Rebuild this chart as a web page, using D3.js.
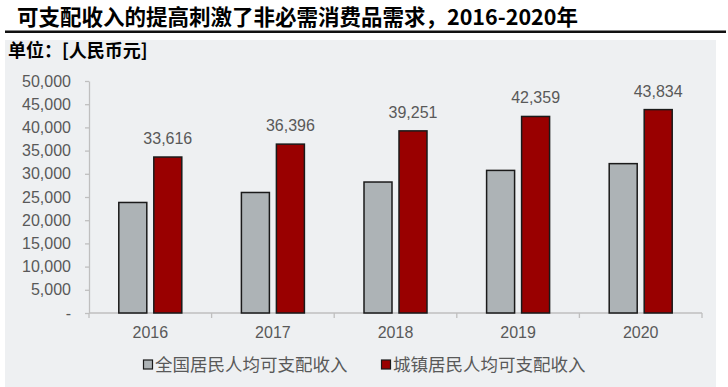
<!DOCTYPE html>
<html lang="zh">
<head>
<meta charset="utf-8">
<script src="https://d3js.org/d3.v7.min.js"></script>
<style type="text/css">
body {
	margin: 0;
	background: #ffffff;
	font-family: "Liberation Sans", "Noto Sans CJK SC", sans-serif;
}
.axis text {
	font: 16px "Liberation Sans", sans-serif;
	fill: #595959;
}
.axis line, .axis path {
	fill: none;
	stroke: #bfbfbf;
	stroke-width: 1.3;
}
</style>
</head>
<body>
<div id="chart"></div>
<script type="text/javascript">

	// data
	var years = ["2016", "2017", "2018", "2019", "2020"];
	var seriesNames = ["全国居民人均可支配收入", "城镇居民人均可支配收入"];
	var national = [23821, 25974, 28228, 30733, 32189];
	var urban = [33616, 36396, 39251, 42359, 43834];
	var yTicks = [0, 5000, 10000, 15000, 20000, 25000, 30000, 35000, 40000, 45000, 50000];

	var width = 728, height = 387;
	var colors = ["#adb3b6", "#990000"];

	var svg = d3.select("#chart")
	  .append("svg")
	  .attr("width", width)
	  .attr("height", height);

	// title + rule
	svg.append("text")
	  .attr("x", 17)
	  .attr("y", 25)
	  .style("font", "bold 21.5px 'Noto Sans CJK SC', sans-serif")
	  .style("fill", "#000")
	  .text("可支配收入的提高刺激了非必需消费品需求，2016-2020年");

	svg.append("rect")
	  .attr("x", 5).attr("y", 30.5)
	  .attr("width", 721).attr("height", 2.5)
	  .style("fill", "#111");

	// panel background
	svg.append("rect")
	  .attr("x", 5).attr("y", 40)
	  .attr("width", 711).attr("height", height - 40)
	  .style("fill", "#eef0f2");

	svg.append("text")
	  .attr("x", 8)
	  .attr("y", 57)
	  .style("font", "bold 18px 'Noto Sans CJK SC', sans-serif")
	  .style("fill", "#000")
	  .text("单位：[人民币元]");

	// scales
	var plotLeft = 89, plotRight = 702, plotTop = 81, plotBottom = 313;

	var x = d3.scaleBand()
	  .domain(years)
	  .range([plotLeft, plotRight]);

	var y = d3.scaleLinear()
	  .domain([0, 50000])
	  .range([plotBottom, plotTop]);

	var barW = 28, gap = 7;

	// y axis
	svg.append("g")
	  .attr("class", "axis")
	  .attr("transform", "translate(" + plotLeft + ",0)")
	  .call(d3.axisLeft(y)
	    .tickValues(yTicks)
	    .tickSize(4)
	    .tickPadding(14)
	    .tickSizeOuter(0)
	    .tickFormat(function(d) { return d === 0 ? "-" : d3.format(",")(d); }));

	// x axis: ticks at category edges
	var xg = svg.append("g")
	  .attr("class", "axis")
	  .attr("transform", "translate(0," + plotBottom + ")");

	xg.append("line")
	  .attr("x1", plotLeft).attr("x2", plotRight)
	  .attr("y1", 0).attr("y2", 0);

	xg.selectAll(".edge")
	  .data(years.concat(["end"]))
	  .enter()
	  .append("line")
	  .attr("class", "edge")
	  .attr("x1", function(d, i) { return plotLeft + i * x.bandwidth(); })
	  .attr("x2", function(d, i) { return plotLeft + i * x.bandwidth(); })
	  .attr("y1", 0).attr("y2", 5);

	xg.selectAll(".lbl")
	  .data(years)
	  .enter()
	  .append("text")
	  .attr("class", "lbl")
	  .attr("x", function(d) { return x(d) + x.bandwidth() / 2; })
	  .attr("y", 25)
	  .attr("text-anchor", "middle")
	  .text(function(d) { return d; });

	// bars
	var series = [national, urban];
	series.forEach(function(vals, s) {
		svg.selectAll(".bar" + s)
		  .data(vals)
		  .enter()
		  .append("rect")
		  .attr("class", "bar" + s)
		  .attr("x", function(d, i) {
		  	var c = x(years[i]) + x.bandwidth() / 2;
		  	return s === 0 ? c - gap / 2 - barW : c + gap / 2;
		  })
		  .attr("y", function(d) { return y(d); })
		  .attr("width", barW)
		  .attr("height", function(d) { return plotBottom - y(d); })
		  .style("fill", colors[s])
		  .style("stroke", "#1a1a1a")
		  .style("stroke-width", 1.5);
	});

	// labels on urban bars
	svg.selectAll(".val")
	  .data(urban)
	  .enter()
	  .append("text")
	  .attr("class", "val")
	  .attr("x", function(d, i) { return x(years[i]) + x.bandwidth() / 2 + gap / 2 + barW / 2; })
	  .attr("y", function(d) { return y(d) - 13; })
	  .attr("text-anchor", "middle")
	  .style("font", "16px 'Liberation Sans', sans-serif")
	  .style("fill", "#595959")
	  .text(function(d) { return d3.format(",")(d); });

	// legend
	var legX = [143, 381];
	var leg = svg.selectAll(".leg")
	  .data(seriesNames)
	  .enter()
	  .append("g")
	  .attr("class", "leg")
	  .attr("transform", function(d, i) { return "translate(" + legX[i] + ",365)"; });

	leg.append("rect")
	  .attr("x", 0.5).attr("y", -5)
	  .attr("width", 9).attr("height", 9)
	  .style("fill", function(d, i) { return colors[i]; })
	  .style("stroke", "#1a1a1a")
	  .style("stroke-width", 1.2);

	leg.append("text")
	  .attr("x", 12)
	  .attr("y", 6)
	  .style("font", "17.5px 'Noto Sans CJK SC', sans-serif")
	  .style("fill", "#595959")
	  .text(function(d) { return d; });

</script>
</body>
</html>
